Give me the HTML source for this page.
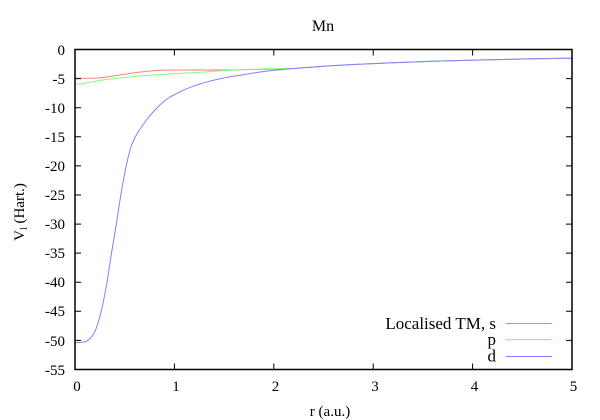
<!DOCTYPE html>
<html>
<head>
<meta charset="utf-8">
<style>
html,body{margin:0;padding:0;background:#fff;}
svg{display:block;}
text{font-family:"Liberation Serif","DejaVu Serif",serif;font-size:15px;fill:#000;}
text.lg{font-size:17px;}
text.tt{font-size:16px;}
</style>
</head>
<body>
<svg width="600" height="420" viewBox="0 0 600 420" xmlns="http://www.w3.org/2000/svg">
<rect x="0" y="0" width="600" height="420" fill="#fff"/>

<!-- series -->
<g fill="none" stroke-width="1" stroke-linejoin="round">
<polyline stroke="#ff7f7f" points="75,78.3 85,78.3 95,78.2 105,77.3 115,75.7 125,74.3 135,72.6 145,71.5 155,70.6 165,70.1 190,70 208,70 235,69.9 262,69.4 285,69 293.7,68.5 313.6,66.97 333.4,65.66 353.3,64.55 373.2,63.58 403,62.34 432.8,61.31 472.6,60.18 522.3,59.05 572,58.15"/>
<polyline stroke="#80ff80" points="75,84.3 80,84 85,83.3 95,81.3 108,79.3 125,77.4 142,75.7 160,74.6 175,73.6 200,72.2 222,70.8 248,69.4 270,68.8 285,68.5 293.7,68.4 313.6,66.97 333.4,65.66 353.3,64.55 373.2,63.58 403,62.34 432.8,61.31 472.6,60.18 522.3,59.05 572,58.15"/>
<polyline stroke="#8080ff" points="75,342.6 78,342.6 81,342.4 84,342 86,341.4 88,340.4 90,338.6 92,336.3 94,333.2 96,329 98,323 100,316 102,308 104,298.5 106,288 108,276 110,263 112,250 114,238 116,226 118,213 120,200 122,188 124,177 126,167 128,158 130,150 132,144 135,137.5 138,132 141,127.5 145,122 150,115.5 155,110 160,104.8 165,100.5 170,97 175,94.3 183,90.3 192,86.7 200,84 208,81.7 216,79.6 225,77.7 233,76.2 242,75 252,73.2 262,71.7 273,70.4 285,69.3 293.7,68.5 313.6,66.97 333.4,65.66 353.3,64.55 373.2,63.58 403,62.34 432.8,61.31 472.6,60.18 522.3,59.05 572,58.15"/>
</g>

<!-- frame -->
<rect x="75" y="49.5" width="497" height="320" fill="none" stroke="#000" stroke-width="1.5"/>

<!-- ticks -->
<g stroke="#000" stroke-width="1">
<path d="M75,78.6h6M75,107.7h6M75,136.8h6M75,165.9h6M75,195h6M75,224.1h6M75,253.1h6M75,282.2h6M75,311.3h6M75,340.4h6"/>
<path d="M572,78.6h-6M572,107.7h-6M572,136.8h-6M572,165.9h-6M572,195h-6M572,224.1h-6M572,253.1h-6M572,282.2h-6M572,311.3h-6M572,340.4h-6"/>
<path d="M174.4,369.5v-6M273.8,369.5v-6M373.2,369.5v-6M472.6,369.5v-6"/>
<path d="M174.4,49.5v6M273.8,49.5v6M373.2,49.5v6M472.6,49.5v6"/>
</g>

<!-- y tick labels -->
<g text-anchor="end">
<text x="65" y="55">0</text>
<text x="65" y="84">-5</text>
<text x="65" y="113">-10</text>
<text x="65" y="142">-15</text>
<text x="65" y="171">-20</text>
<text x="65" y="200">-25</text>
<text x="65" y="229">-30</text>
<text x="65" y="258">-35</text>
<text x="65" y="287">-40</text>
<text x="65" y="316">-45</text>
<text x="65" y="346">-50</text>
<text x="65" y="375">-55</text>
</g>

<!-- x tick labels -->
<g text-anchor="middle">
<text x="77" y="391">0</text>
<text x="176" y="391">1</text>
<text x="275.5" y="391">2</text>
<text x="375" y="391">3</text>
<text x="474.5" y="391">4</text>
<text x="573.5" y="391">5</text>
</g>

<!-- title & axis labels -->
<text class="tt" x="323" y="31" text-anchor="middle">Mn</text>
<text x="330" y="416" text-anchor="middle">r (a.u.)</text>
<text transform="translate(24,212) rotate(-90)" text-anchor="middle">V<tspan font-size="10" dy="3">l</tspan><tspan dy="-3"> (Hart.)</tspan></text>

<!-- legend -->
<text class="lg" x="496" y="329" text-anchor="end">Localised TM, s</text>
<text class="lg" x="496" y="345" text-anchor="end">p</text>
<text class="lg" x="496" y="361.5" text-anchor="end">d</text>
<g stroke-width="1">
<line x1="506" y1="323.5" x2="552" y2="323.5" stroke="#ff7f7f"/>
<line x1="506" y1="339.5" x2="552" y2="339.5" stroke="#80ff80"/>
<line x1="506" y1="356.5" x2="552" y2="356.5" stroke="#8080ff"/>
</g>
</svg>
</body>
</html>
